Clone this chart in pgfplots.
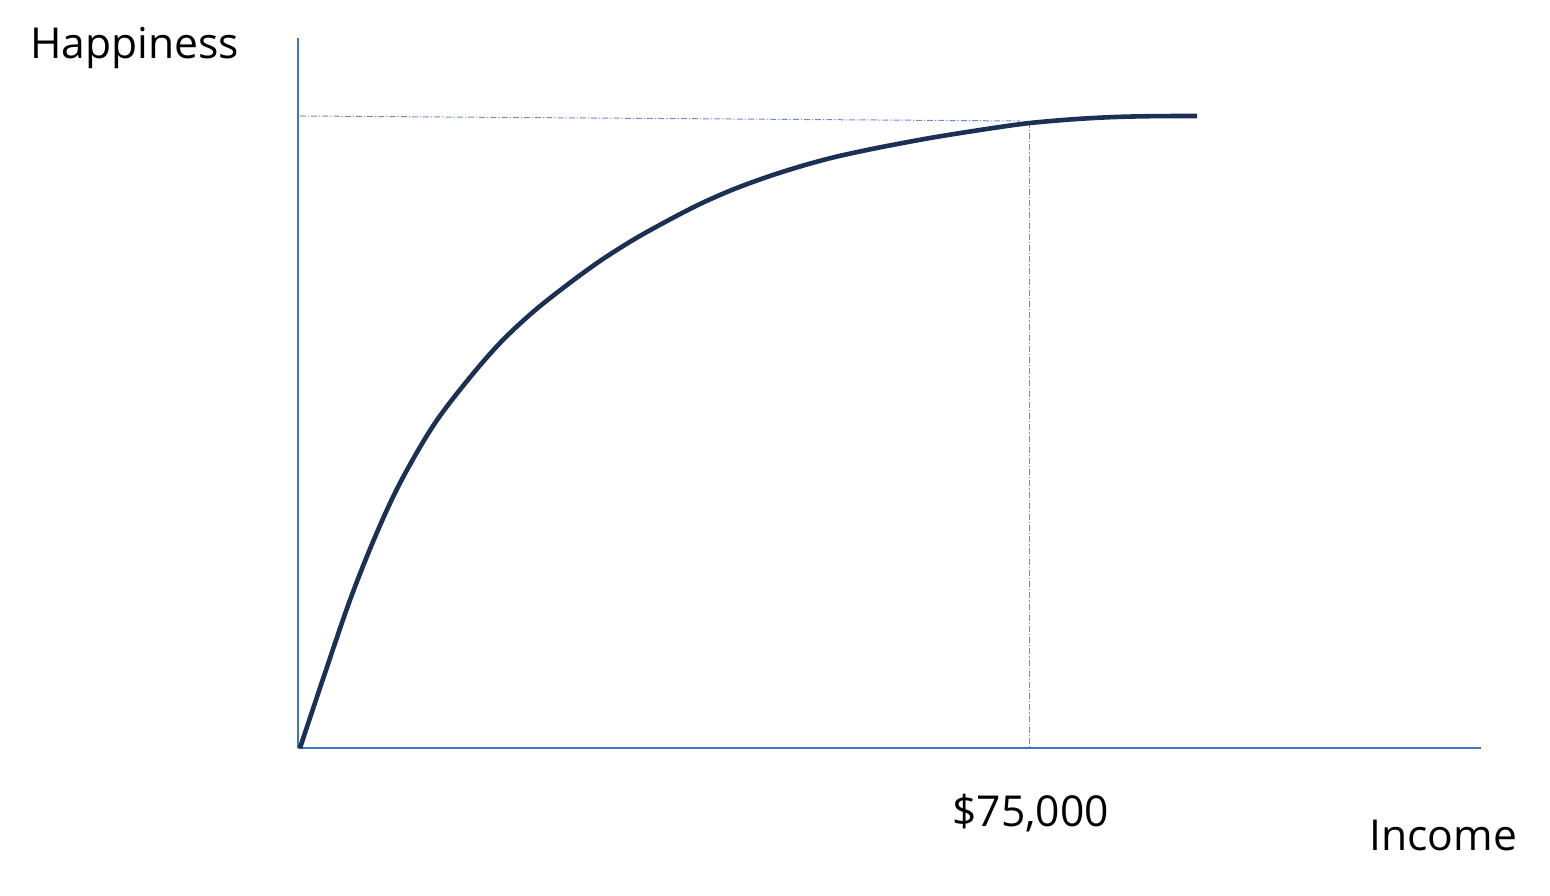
\documentclass[border=0pt]{standalone}
\usepackage{pgfplots}
\pgfplotsset{compat=1.18}
\usepackage{fontspec}
\setmainfont{Open Sans}
\definecolor{axblue}{RGB}{68,114,196}
\definecolor{navy}{RGB}{28,48,86}
\definecolor{guide}{RGB}{110,140,200}
\begin{document}
\begin{tikzpicture}[x=1pt,y=1pt]
\useasboundingbox (0,0) rectangle (775,447.5);
\begin{axis}[
  at={(149pt,73.5pt)}, anchor=origin,
  scale only axis, width=591.5pt, height=355pt,
  xmin=298, xmax=1481, ymin=0, ymax=710,
  axis lines=left, axis line style={axblue, line width=0.75pt, -},
  xtick=\empty, ytick=\empty, clip=false,
]
\addplot[guide, line width=0.5pt, dash pattern=on 3pt off 1pt on 0.6pt off 1pt] coordinates {(300,632) (1020,627)};
\addplot[guide, line width=0.5pt, dash pattern=on 3pt off 1pt on 0.6pt off 1pt] coordinates {(1029,626) (1029,0)};
\addplot[navy, line width=2.3pt, smooth, tension=0.55] coordinates {
(300,0) (325,75) (350,148) (375,211) (400,265) (433,322) (467,367)
(500,405) (533,436) (567,463) (600,487) (633,508) (667,527) (700,544)
(733,558.5) (767,571) (800,581.5) (833,590.5) (867,598) (900,604.5) (933,610.5)
(967,616) (1000,621) (1030,625) (1070,628.5) (1110,630.8) (1150,631.8) (1197,632)};
\end{axis}
\node[anchor=base west, inner sep=0pt, font=\fontsize{21.3}{25}\selectfont] at (15,418) {Happiness};
\node[anchor=base west, inner sep=0pt, font=\fontsize{21.3}{25}\selectfont] at (476,34.5) {\$75,000};
\node[anchor=base west, inner sep=0pt, font=\fontsize{21.3}{25}\selectfont] at (684.5,22.5) {Income};
\end{tikzpicture}
\end{document}
